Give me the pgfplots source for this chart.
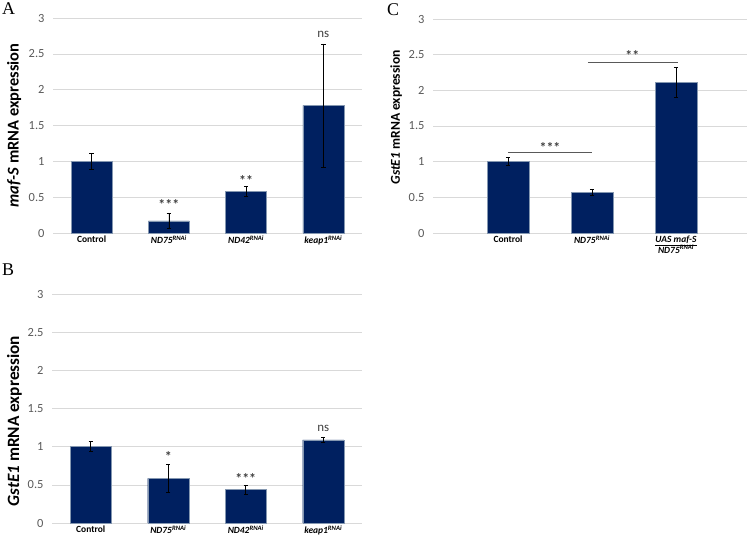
\documentclass[border=0pt]{standalone}
\usepackage{pgfplots}
\pgfplotsset{compat=1.18}
\usepackage{fontspec}
\setmainfont{Carlito}
\newfontfamily\timesf{Liberation Serif}
\definecolor{barblue}{HTML}{002060}
\definecolor{bedge}{HTML}{8497B0}
\definecolor{gridgray}{HTML}{D9D9D9}
\definecolor{ticktext}{HTML}{595959}
\definecolor{sigtext}{HTML}{404040}

\pgfplotsset{
 panel/.style={
  scale only axis,
  anchor=south west,
  ybar,
  ymin=0, ymax=3,
  ytick={0,0.5,1,1.5,2,2.5,3},
  yticklabels={0,0.5,1,1.5,2,2.5,3},
  ymajorgrids,
  grid style={gridgray, line width=0.6pt},
  axis line style={draw=none},
  major tick length=0pt,
  xtick={0,1,2,3},
  tick label style={font=\fontsize{12.5}{14}\selectfont, text=ticktext},
  yticklabel style={xshift=-5bp},
  xticklabel style={font=\fontsize{9.5}{10}\selectfont\bfseries, text=black, yshift=1bp},
  /pgf/number format/assume math mode=true,
  every axis y label/.style={rotate=90, anchor=center},
 },
 bars/.style={
  fill=barblue, draw=bedge, line width=0.4pt,
  error bars/y dir=both, error bars/y explicit,
  error bars/error bar style={black, line width=0.6pt},
  error bars/error mark options={rotate=90, mark size=2.2bp, black, line width=0.6pt},
 },
}
\tikzset{sig/.style={font=\fontsize{13}{14}\selectfont, text=sigtext},
         star/.style={font=\fontsize{14}{15}\selectfont\bfseries, text=sigtext}}

\newcommand{\rnai}[1]{\textit{#1}\textsuperscript{\textit{RNAi}}}

\pgfplotstableread{
x y e
0 1.00 0.115
1 0.17 0.110
2 0.58 0.065
3 1.78 0.860
}\dataA

\pgfplotstableread{
x y e
0 1.00 0.066
1 0.585 0.185
2 0.44 0.060
3 1.09 0.037
}\dataB

\pgfplotstableread{
x y e
0 1.00 0.057
1 0.57 0.042
2 2.11 0.212
}\dataC

\begin{document}
\begin{tikzpicture}
\path[use as bounding box] (0bp,0bp) rectangle (750bp,-537bp);

% Panel A
\begin{axis}[panel,
  at={(53bp,-233bp)}, width=309bp, height=215bp,
  xmin=-0.5, xmax=3.5,
  xticklabels={Control,\rnai{ND75},\rnai{ND42},\rnai{keap1}},
  ylabel={\fontsize{16.5}{18}\selectfont\bfseries\textit{maf-S} mRNA expression},
  ylabel style={at={(axis description cs:-0.126,0.5)}},
]
\addplot[bars, bar width=0.53] table[x=x, y=y, y error=e] {\dataA};
\node[star] at (axis cs:1,0.40) {***};
\node[star] at (axis cs:2,0.73) {**};
\node[sig] at (axis cs:3,2.77) {ns};
\end{axis}

% Panel B
\begin{axis}[panel,
  at={(52bp,-523bp)}, width=310bp, height=229bp,
  xmin=-0.5, xmax=3.5,
  xticklabels={Control,\rnai{ND75},\rnai{ND42},\rnai{keap1}},
  ylabel={\fontsize{17.3}{19}\selectfont\bfseries\textit{GstE1} mRNA expression},
  ylabel style={at={(axis description cs:-0.121,0.445)}},
]
\addplot[bars, bar width=0.53] table[x=x, y=y, y error=e] {\dataB};
\node[star] at (axis cs:1,0.87) {*};
\node[star] at (axis cs:2,0.58) {***};
\node[sig] at (axis cs:3,1.24) {ns};
\end{axis}

% Panel C
\begin{axis}[panel,
  at={(433bp,-233bp)}, width=314bp, height=214bp,
  xmin=-0.893, xmax=2.845,
  xtick={0,1,2},
  xticklabels={Control,\rnai{ND75},{\renewcommand\arraystretch{0.85}\begin{tabular}{@{}c@{}}\textit{UAS maf-S}\\\hline\rnai{ND75}\end{tabular}}},
  ylabel={\fontsize{13.6}{15}\selectfont\bfseries\textit{GstE1} mRNA expression},
  ylabel style={at={(axis description cs:-0.117,0.54)}},
]
\addplot[bars, bar width=0.5] table[x=x, y=y, y error=e] {\dataC};
\addplot[sharp plot, no marks, color=black!65, line width=0.6pt] coordinates {(0,1.13) (1,1.13)};
\addplot[sharp plot, no marks, color=black!65, line width=0.6pt] coordinates {(0.95,2.40) (2.02,2.40)};
\node[star] at (axis cs:0.5,1.20) {***};
\node[star] at (axis cs:1.48,2.49) {**};
\end{axis}

% Panel letters
\node[font=\timesf\fontsize{18}{20}\selectfont] at (8.5bp,-9bp) {A};
\node[font=\timesf\fontsize{18}{20}\selectfont] at (8bp,-270bp) {B};
\node[font=\timesf\fontsize{18}{20}\selectfont] at (393bp,-10bp) {C};
\end{tikzpicture}
\end{document}
